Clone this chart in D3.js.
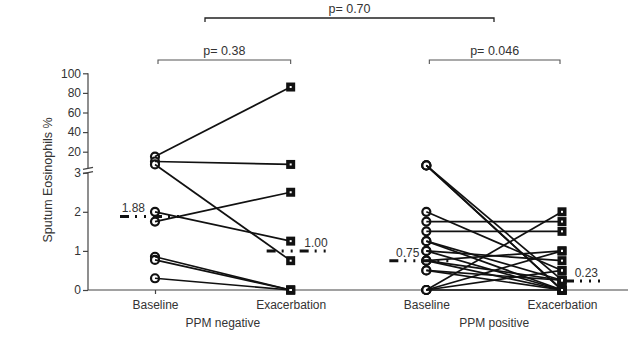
<!DOCTYPE html>
<html>
<head>
<meta charset="utf-8">
<script src="https://cdn.jsdelivr.net/npm/d3@7/dist/d3.min.js"></script>
<style>
  html, body { margin: 0; padding: 0; background: #fff; }
  svg { display: block; font-family: "Liberation Sans", Arial, sans-serif; }
</style>
</head>
<body>
<svg id="chart" width="640" height="341"></svg>
<script>
// ---------- data ----------
const categories = ["Baseline", "Exacerbation"];
const groups = ["PPM negative", "PPM positive"];
const upperTicks = [100, 80, 60, 40, 20];
const lowerTicks = [3, 2, 1, 0];

const negBaseline     = [15, 10, 7, 2.0, 1.75, 0.85, 0.77, 0.3];
const negExacerbation = [86, 7, 0.75, 1.25, 2.5, 0, 0, 0];

const posBaseline     = [6, 6, 6, 2.0, 1.75, 1.5, 1.25, 1.25, 1.0, 1.0, 0.75, 0.75, 0.75, 0.5, 0.5, 0, 0, 0, 0];
const posExacerbation = [0, 0, 0.25, 0.5, 1.75, 1.5, 0.25, 0, 0.75, 0, 1.0, 0.25, 0, 0.25, 0, 2.0, 1.0, 0.5, 0];

const medianValues = [1.88, 1.00, 0.75, 0.23];
const medianLabels = ["1.88", "1.00", "0.75", "0.23"];
const pLabels = ["p= 0.70", "p= 0.38", "p= 0.046"];

// ---------- scales ----------
const svg = d3.select("#chart");
const axisColor = "#444";
const textColor = "#333";

const slots = ["neg-Baseline", "neg-Exacerbation", "pos-Baseline", "pos-Exacerbation"];
const x = d3.scalePoint().domain(slots).range([155, 562]);

const yLow = d3.scaleLinear().domain([0, 3]).range([290, 172.7]);
const yHigh = d3.scaleLinear().domain([20, 100]).range([151.7, 73.3]);
const y = v => (v <= 3 ? yLow(v) : yHigh(v));

const axisX = 88;

// ---------- y axis (broken) ----------
const gLow = svg.append("g").attr("transform", `translate(${axisX},0)`)
  .call(d3.axisLeft(yLow).tickValues(lowerTicks).tickSize(5).tickPadding(2).tickFormat(d3.format("d")));
const gHigh = svg.append("g").attr("transform", `translate(${axisX},0)`)
  .call(d3.axisLeft(yHigh).tickValues(upperTicks).tickSize(5).tickPadding(2).tickFormat(d3.format("d")));
gHigh.select(".domain").remove();
gLow.select(".domain").remove();
[gLow, gHigh].forEach(g => {
  g.selectAll(".tick line").attr("stroke", axisColor).attr("stroke-width", 1.2);
  g.selectAll(".tick text").attr("fill", textColor).attr("font-size", 12)
    .attr("font-family", '"Liberation Sans", Arial, sans-serif');
});
// axis segments
svg.append("line").attr("x1", axisX).attr("x2", axisX)
  .attr("y1", yLow(0)).attr("y2", yLow(3)).attr("stroke", axisColor).attr("stroke-width", 1.2);
svg.append("line").attr("x1", axisX).attr("x2", axisX)
  .attr("y1", 168.3).attr("y2", yHigh(100)).attr("stroke", axisColor).attr("stroke-width", 1.2);
// break marks
[yLow(3), 168.3].forEach(yy => {
  svg.append("line").attr("x1", axisX - 5).attr("x2", axisX + 5)
    .attr("y1", yy + 1).attr("y2", yy - 1).attr("stroke", axisColor).attr("stroke-width", 1.2);
});

// ---------- x axis ----------
svg.append("line").attr("x1", axisX).attr("x2", 628)
  .attr("y1", yLow(0)).attr("y2", yLow(0)).attr("stroke", axisColor).attr("stroke-width", 1.2);
const gx = svg.append("g").attr("transform", `translate(0,${yLow(0)})`)
  .call(d3.axisBottom(x).tickSize(4).tickPadding(6).tickFormat(d => d.split("-")[1]));
gx.select(".domain").remove();
gx.selectAll(".tick line").attr("stroke", axisColor).attr("stroke-width", 1.2);
gx.selectAll(".tick text").attr("fill", textColor).attr("font-size", 12)
  .attr("font-family", '"Liberation Sans", Arial, sans-serif');

// group labels
groups.forEach((g, i) => {
  const cx = (x(slots[i * 2]) + x(slots[i * 2 + 1])) / 2;
  svg.append("text").attr("x", cx).attr("y", 327).attr("text-anchor", "middle")
    .attr("font-size", 12).attr("fill", textColor).text(g);
});

// y title
svg.append("text").attr("transform", "translate(52,180) rotate(-90)")
  .attr("text-anchor", "middle").attr("font-size", 12.5).attr("fill", textColor)
  .text("Sputum Eosinophils %");

// ---------- paired lines ----------
function drawGroup(base, exac, prefix) {
  const pairs = base.map((b, i) => [b, exac[i]]);
  const xb = x(prefix + "-Baseline"), xe = x(prefix + "-Exacerbation");
  svg.append("g").selectAll("circle").data(base).join("circle")
    .attr("cx", xb).attr("cy", d => y(d)).attr("r", 4)
    .attr("fill", "#fff").attr("stroke", "#111").attr("stroke-width", 2.2);
  svg.append("g").selectAll("line").data(pairs).join("line")
    .attr("x1", xb).attr("x2", xe)
    .attr("y1", d => y(d[0])).attr("y2", d => y(d[1]))
    .attr("stroke", "#111").attr("stroke-width", 1.7);
  const gs = svg.append("g");
  gs.selectAll("rect.sq").data(exac).join("rect").attr("class", "sq")
    .attr("x", xe - 4.5).attr("y", d => y(d) - 4.5).attr("width", 9).attr("height", 9)
    .attr("fill", "#111");
  gs.selectAll("rect.dot").data(exac).join("rect").attr("class", "dot")
    .attr("x", xe - 1).attr("y", d => y(d) - 1).attr("width", 2).attr("height", 2)
    .attr("fill", "#fff");
}
drawGroup(negBaseline, negExacerbation, "neg");
drawGroup(posBaseline, posExacerbation, "pos");

// ---------- medians ----------
const medSpans = [[-35, 28], [-24, 38], [-37, 23], [3, 38]];
const labelPos = [[-10, -4], [37, -4], [-7, -4], [36, -4]];
medianValues.forEach((m, i) => {
  const cx = x(slots[i]);
  svg.append("line").attr("x1", cx + medSpans[i][0]).attr("x2", cx + medSpans[i][1])
    .attr("y1", y(m)).attr("y2", y(m)).attr("stroke", "#111").attr("stroke-width", 3)
    .attr("stroke-dasharray", "9,6,2,7,2,7");
  svg.append("text").attr("x", cx + labelPos[i][0]).attr("y", y(m) + labelPos[i][1])
    .attr("text-anchor", "end").attr("font-size", 12).attr("fill", textColor)
    .text(medianLabels[i]);
});

// ---------- significance brackets ----------
function bracket(x1, x2, yy, label, color, width) {
  svg.append("path")
    .attr("d", `M${x1},${yy + 4}V${yy}H${x2}V${yy + 4}`)
    .attr("fill", "none").attr("stroke", color).attr("stroke-width", width);
  svg.append("text").attr("x", (x1 + x2) / 2).attr("y", yy - 5)
    .attr("text-anchor", "middle").attr("font-size", 12.5).attr("fill", textColor).text(label);
}
bracket(205, 494, 18, pLabels[0], "#222", 1.3);
bracket(x(slots[0]) + 3, x(slots[1]), 60, pLabels[1], "#555", 1.1);
bracket(x(slots[2]) + 3, x(slots[3]) - 2, 60, pLabels[2], "#555", 1.1);
</script>
</body>
</html>
